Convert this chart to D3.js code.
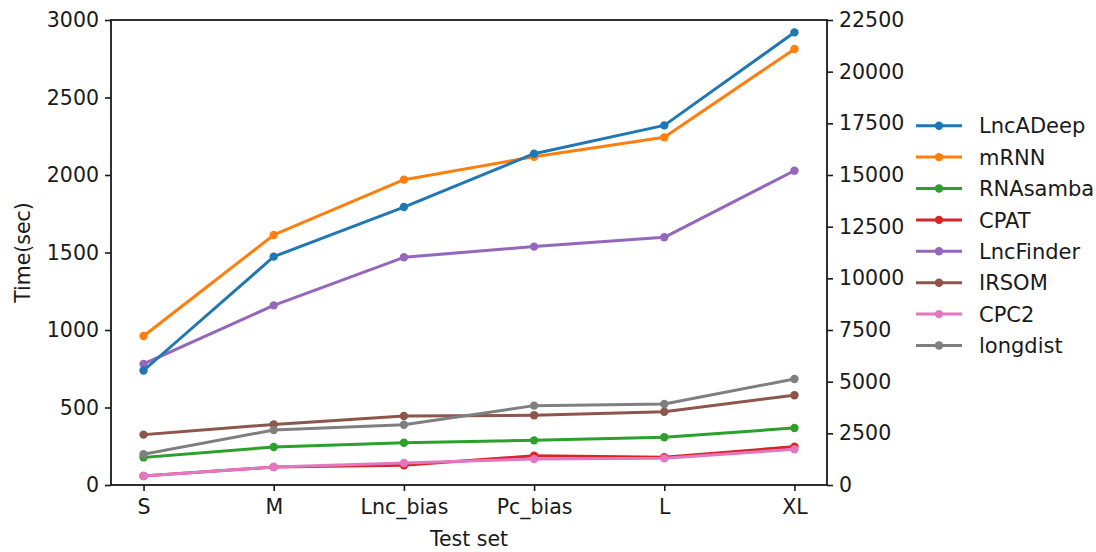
<!DOCTYPE html>
<html>
<head>
<meta charset="utf-8">
<script src="https://cdn.jsdelivr.net/npm/d3@7"></script>
<style>
  body { margin: 0; background: #fff; }
  text { font-family: 'DejaVu Sans', sans-serif; fill: #1a1a1a; }
</style>
</head>
<body>
<svg id="chart" width="1096" height="552"></svg>
<script>
// test sets on the x axis
const testSets = ['S', 'M', 'Lnc_bias', 'Pc_bias', 'L', 'XL']
const leftTicks = [0, 500, 1000, 1500, 2000, 2500, 3000]
const rightTicks = [0, 2500, 5000, 7500, 10000, 12500, 15000, 17500, 20000, 22500]

// run time in seconds
// LncADeep is plotted against the right axis
const lncadeep = [5540, 11050, 13450, 16030, 17400, 21900]
const mrnn = [961, 1613, 1970, 2118, 2243, 2813]
const rnasamba = [178, 245, 273, 288, 308, 368]
const cpat = [58, 116, 127, 189, 179, 247]
const lncfinder = [781, 1159, 1469, 1538, 1598, 2028]
const irsom = [325, 391, 445, 450, 473, 579]
const cpc2 = [58, 116, 142, 168, 172, 230]
const longdist = [198, 355, 389, 512, 523, 684]

const series = [
  {name: 'LncADeep', values: lncadeep, color: '#1f77b4', right: true},
  {name: 'mRNN', values: mrnn, color: '#ff7f0e'},
  {name: 'RNAsamba', values: rnasamba, color: '#2ca02c'},
  {name: 'CPAT', values: cpat, color: '#d62728'},
  {name: 'LncFinder', values: lncfinder, color: '#9467bd'},
  {name: 'IRSOM', values: irsom, color: '#8c564b'},
  {name: 'CPC2', values: cpc2, color: '#e377c2'},
  {name: 'longdist', values: longdist, color: '#7f7f7f'}
]

const plot = {left: 111, right: 827, top: 20, bottom: 485}
const fontSize = 20.5

const svg = d3.select('#chart')

const x = d3.scalePoint()
    .domain(testSets)
    .range([plot.left, plot.right])
    .padding(0.25)
const yLeft = d3.scaleLinear().domain([0, 3000]).range([plot.bottom, plot.top])
const yRight = d3.scaleLinear().domain([0, 22500]).range([plot.bottom, plot.top])

// left-axis series first, twin axis on top (like matplotlib twinx)
const ordered = series.filter(s => !s.right).concat(series.filter(s => s.right))

ordered.forEach(s => {
  const y = s.right ? yRight : yLeft
  const line = d3.line()
      .x((d, i) => x(testSets[i]))
      .y(d => y(d))
  const g = svg.append('g').attr('class', 'series')
  g.append('path')
      .datum(s.values)
      .attr('d', line)
      .attr('fill', 'none')
      .attr('stroke', s.color)
      .attr('stroke-width', 3)
      .attr('stroke-linejoin', 'round')
      .attr('stroke-linecap', 'square')
  g.selectAll('circle')
      .data(s.values)
      .enter()
      .append('circle')
      .attr('cx', (d, i) => x(testSets[i]))
      .attr('cy', d => y(d))
      .attr('r', 4.2)
      .attr('fill', s.color)
})

// axes
const axisStyle = function (g, anchor) {
  g.select('.domain').remove()
  g.selectAll('.tick line').attr('stroke', '#1a1a1a').attr('stroke-width', 1.6)
  g.selectAll('.tick text')
      .attr('font-size', fontSize)
      .attr('font-family', 'DejaVu Sans, sans-serif')
      .attr('fill', '#1a1a1a')
}

svg.append('g')
    .attr('transform', `translate(0,${plot.bottom})`)
    .call(d3.axisBottom(x).tickSize(6).tickPadding(8))
    .call(g => axisStyle(g))

svg.append('g')
    .attr('transform', `translate(${plot.left},0)`)
    .call(d3.axisLeft(yLeft).tickValues(leftTicks).tickSize(6).tickPadding(6).tickFormat(d3.format('d')))
    .call(g => axisStyle(g))

svg.append('g')
    .attr('transform', `translate(${plot.right},0)`)
    .call(d3.axisRight(yRight).tickValues(rightTicks).tickSize(6).tickPadding(6).tickFormat(d3.format('d')))
    .call(g => axisStyle(g))

// frame
svg.append('rect')
    .attr('x', plot.left)
    .attr('y', plot.top)
    .attr('width', plot.right - plot.left)
    .attr('height', plot.bottom - plot.top)
    .attr('fill', 'none')
    .attr('stroke', '#1a1a1a')
    .attr('stroke-width', 1.8)

// axis titles
svg.append('text')
    .attr('x', (plot.left + plot.right) / 2)
    .attr('y', 546)
    .attr('text-anchor', 'middle')
    .attr('font-size', fontSize)
    .text('Test set')

svg.append('text')
    .attr('transform', `translate(30,${(plot.top + plot.bottom) / 2}) rotate(-90)`)
    .attr('text-anchor', 'middle')
    .attr('font-size', fontSize)
    .text('Time(sec)')

// legend
const legend = svg.append('g')
    .attr('class', 'legend')
    .selectAll('g')
    .data(series)
    .enter()
    .append('g')
    .attr('transform', (d, i) => `translate(916,${125.7 + i * 31.4})`)

legend.append('line')
    .attr('x1', 0)
    .attr('x2', 46)
    .attr('stroke', d => d.color)
    .attr('stroke-width', 3)
legend.append('circle')
    .attr('cx', 23)
    .attr('r', 4.2)
    .attr('fill', d => d.color)
legend.append('text')
    .attr('x', 63)
    .attr('y', 7.6)
    .attr('font-size', 21)
    .text(d => d.name)
</script>
</body>
</html>
